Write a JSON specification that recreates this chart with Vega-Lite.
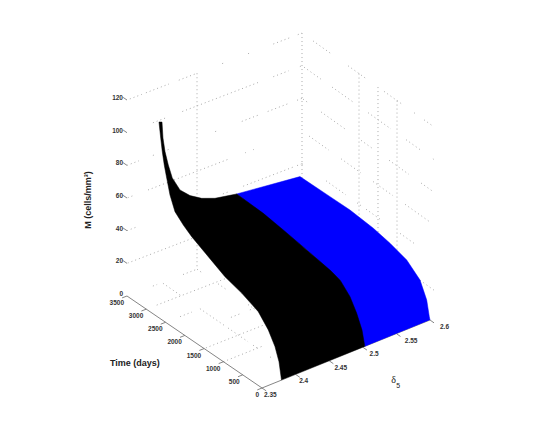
{"$schema":"https://vega.github.io/schema/vega-lite/v6.json","width":545,"height":436,"autosize":{"type":"fit","contains":"padding"},"padding":0,"background":"white","view":{"stroke":null},
"datasets":{"surface":[
{"r":"black","i":1,"delta":2.379,"time":0,"M":0},{"r":"black","i":2,"delta":2.379,"time":65,"M":10.2},{"r":"black","i":3,"delta":2.379,"time":170,"M":17.8},{"r":"black","i":4,"delta":2.379,"time":344,"M":25.2},{"r":"black","i":5,"delta":2.379,"time":605,"M":32.2},{"r":"black","i":6,"delta":2.379,"time":1038,"M":36.6},{"r":"black","i":7,"delta":2.379,"time":1474,"M":39.6},{"r":"black","i":8,"delta":2.379,"time":1909,"M":44.9},{"r":"black","i":9,"delta":2.379,"time":2342,"M":50.2},{"r":"black","i":10,"delta":2.379,"time":2561,"M":53.8},{"r":"black","i":11,"delta":2.379,"time":2778,"M":58.5},{"r":"black","i":12,"delta":2.379,"time":2908,"M":66.6},{"r":"black","i":13,"delta":2.379,"time":2994,"M":75.6},{"r":"black","i":14,"delta":2.379,"time":3057,"M":82.5},{"r":"black","i":15,"delta":2.379,"time":3109,"M":89.9},{"r":"black","i":16,"delta":2.379,"time":3150,"M":97.5},{"r":"black","i":17,"delta":2.379,"time":3195,"M":106.7},
{"r":"black","i":18,"delta":2.4,"time":3500,"M":98.3},{"r":"black","i":19,"delta":2.4014,"time":3500,"M":88.3},{"r":"black","i":20,"delta":2.4043,"time":3500,"M":79.5},{"r":"black","i":21,"delta":2.409,"time":3500,"M":70.5},{"r":"black","i":22,"delta":2.4147,"time":3500,"M":61.7},{"r":"black","i":23,"delta":2.4257,"time":3500,"M":52.5},{"r":"black","i":24,"delta":2.44,"time":3500,"M":46.7},{"r":"black","i":25,"delta":2.4567,"time":3500,"M":42.3},{"r":"black","i":26,"delta":2.4757,"time":3500,"M":39.2},{"r":"black","i":27,"delta":2.4971,"time":3500,"M":37.5},
{"r":"black","i":28,"delta":2.503,"time":3430,"M":38.5},{"r":"black","i":29,"delta":2.503,"time":2718,"M":38},{"r":"black","i":30,"delta":2.503,"time":2183,"M":36.4},{"r":"black","i":31,"delta":2.503,"time":1556,"M":34.2},{"r":"black","i":32,"delta":2.503,"time":932,"M":31.8},{"r":"black","i":33,"delta":2.503,"time":664,"M":30.1},{"r":"black","i":34,"delta":2.503,"time":396,"M":24.1},{"r":"black","i":35,"delta":2.503,"time":217,"M":16.8},{"r":"black","i":36,"delta":2.503,"time":75,"M":8.8},{"r":"black","i":37,"delta":2.503,"time":0,"M":0},
{"r":"blue","i":1,"delta":2.503,"time":0,"M":0},{"r":"blue","i":2,"delta":2.503,"time":664,"M":30.1},{"r":"blue","i":3,"delta":2.503,"time":1556,"M":34.2},{"r":"blue","i":4,"delta":2.503,"time":3430,"M":38.5},{"r":"blue","i":5,"delta":2.6,"time":3555,"M":31.2},{"r":"blue","i":6,"delta":2.6,"time":2734,"M":32},{"r":"blue","i":7,"delta":2.6,"time":2188,"M":32.5},{"r":"blue","i":8,"delta":2.6,"time":1550,"M":31.5},{"r":"blue","i":9,"delta":2.6,"time":1094,"M":29.6},{"r":"blue","i":10,"delta":2.6,"time":637,"M":26.6},{"r":"blue","i":11,"delta":2.6,"time":273,"M":20.1},{"r":"blue","i":12,"delta":2.6,"time":90,"M":10.8},{"r":"blue","i":13,"delta":2.6,"time":19,"M":1.7},{"r":"blue","i":14,"delta":2.6,"time":0,"M":0}
],
"grid":[
{"s":"a1","i":1,"delta":2.354,"time":3500,"M":120},{"s":"a1","i":2,"delta":2.371,"time":3500,"M":120},{"s":"a2","i":1,"delta":2.377,"time":3500,"M":120},{"s":"a2","i":2,"delta":2.41,"time":3500,"M":120},{"s":"a3","i":1,"delta":2.424,"time":3500,"M":120},{"s":"a3","i":2,"delta":2.447,"time":3500,"M":120},{"s":"a4","i":1,"delta":2.486,"time":3500,"M":120},{"s":"a4","i":2,"delta":2.488,"time":3500,"M":120},{"s":"a5","i":1,"delta":2.523,"time":3500,"M":120},{"s":"a5","i":2,"delta":2.525,"time":3500,"M":120},{"s":"a6","i":1,"delta":2.559,"time":3500,"M":120},{"s":"a6","i":2,"delta":2.584,"time":3500,"M":120},{"s":"a7","i":1,"delta":2.594,"time":3500,"M":120},{"s":"a7","i":2,"delta":2.6,"time":3500,"M":120},
{"s":"b1","i":1,"delta":2.387,"time":3500,"M":100},{"s":"b1","i":2,"delta":2.407,"time":3500,"M":100},{"s":"b2","i":1,"delta":2.429,"time":3500,"M":100},{"s":"b2","i":2,"delta":2.537,"time":3500,"M":100},{"s":"b3","i":1,"delta":2.559,"time":3500,"M":100},{"s":"b3","i":2,"delta":2.581,"time":3500,"M":100},{"s":"b4","i":1,"delta":2.597,"time":3500,"M":100},{"s":"b4","i":2,"delta":2.6,"time":3500,"M":100},
{"s":"c1","i":1,"delta":2.35,"time":3500,"M":80},{"s":"c1","i":2,"delta":2.367,"time":3500,"M":80},{"s":"c2","i":1,"delta":2.387,"time":3500,"M":80},{"s":"c2","i":2,"delta":2.389,"time":3500,"M":80},{"s":"c3","i":1,"delta":2.408,"time":3500,"M":80},{"s":"c3","i":2,"delta":2.41,"time":3500,"M":80},{"s":"c4","i":1,"delta":2.476,"time":3500,"M":80},{"s":"c4","i":2,"delta":2.48,"time":3500,"M":80},{"s":"c5","i":1,"delta":2.514,"time":3500,"M":80},{"s":"c5","i":2,"delta":2.537,"time":3500,"M":80},{"s":"c6","i":1,"delta":2.551,"time":3500,"M":80},{"s":"c6","i":2,"delta":2.58,"time":3500,"M":80},{"s":"c7","i":1,"delta":2.593,"time":3500,"M":80},{"s":"c7","i":2,"delta":2.6,"time":3500,"M":80},
{"s":"d1","i":1,"delta":2.351,"time":3500,"M":60},{"s":"d1","i":2,"delta":2.361,"time":3500,"M":60},{"s":"d2","i":1,"delta":2.38,"time":3500,"M":60},{"s":"d2","i":2,"delta":2.494,"time":3500,"M":60},{"s":"d3","i":1,"delta":2.519,"time":3500,"M":60},{"s":"d3","i":2,"delta":2.52,"time":3500,"M":60},{"s":"d4","i":1,"delta":2.53,"time":3500,"M":60},{"s":"d4","i":2,"delta":2.531,"time":3500,"M":60},
{"s":"e1","i":1,"delta":2.35,"time":3500,"M":40},{"s":"e1","i":2,"delta":2.366,"time":3500,"M":40},{"s":"e2","i":1,"delta":2.487,"time":3500,"M":40},{"s":"e2","i":2,"delta":2.496,"time":3500,"M":40},{"s":"e3","i":1,"delta":2.516,"time":3500,"M":40},{"s":"e3","i":2,"delta":2.587,"time":3500,"M":40},{"s":"e4","i":1,"delta":2.593,"time":3500,"M":40},{"s":"e4","i":2,"delta":2.6,"time":3500,"M":40},
{"s":"f1","i":1,"delta":2.351,"time":3500,"M":20},{"s":"f1","i":2,"delta":2.444,"time":3500,"M":20},
{"s":"g1","i":1,"delta":2.6,"time":3199,"M":120},{"s":"g1","i":2,"delta":2.6,"time":2679,"M":120},{"s":"g2","i":1,"delta":2.6,"time":2242,"M":120},{"s":"g2","i":2,"delta":2.6,"time":1750,"M":120},{"s":"g3","i":1,"delta":2.6,"time":1258,"M":120},{"s":"g3","i":2,"delta":2.6,"time":766,"M":120},{"s":"g4","i":1,"delta":2.6,"time":437,"M":120},{"s":"g4","i":2,"delta":2.6,"time":383,"M":120},{"s":"g5","i":1,"delta":2.6,"time":164,"M":120},{"s":"g5","i":2,"delta":2.6,"time":-100,"M":120},
{"s":"h1","i":1,"delta":2.6,"time":3445,"M":100},{"s":"h1","i":2,"delta":2.6,"time":2980,"M":100},{"s":"h2","i":1,"delta":2.6,"time":2679,"M":100},{"s":"h2","i":2,"delta":2.6,"time":2078,"M":100},{"s":"h3","i":1,"delta":2.6,"time":1695,"M":100},{"s":"h3","i":2,"delta":2.6,"time":1066,"M":100},{"s":"h4","i":1,"delta":2.6,"time":656,"M":100},{"s":"h4","i":2,"delta":2.6,"time":219,"M":100},{"s":"h5","i":1,"delta":2.6,"time":-100,"M":100},{"s":"h5","i":2,"delta":2.6,"time":-80,"M":100},
{"s":"j1","i":1,"delta":2.6,"time":3472,"M":80},{"s":"j1","i":2,"delta":2.6,"time":3308,"M":80},{"s":"j2","i":1,"delta":2.6,"time":2980,"M":80},{"s":"j2","i":2,"delta":2.6,"time":2297,"M":80},{"s":"j3","i":1,"delta":2.6,"time":1886,"M":80},{"s":"j3","i":2,"delta":2.6,"time":1558,"M":80},{"s":"j4","i":1,"delta":2.6,"time":1121,"M":80},{"s":"j4","i":2,"delta":2.6,"time":574,"M":80},{"s":"j5","i":1,"delta":2.6,"time":246,"M":80},{"s":"j5","i":2,"delta":2.6,"time":-100,"M":80},
{"s":"k1","i":1,"delta":2.6,"time":3308,"M":60},{"s":"k1","i":2,"delta":2.6,"time":2761,"M":60},{"s":"k2","i":1,"delta":2.6,"time":2433,"M":60},{"s":"k2","i":2,"delta":2.6,"time":1886,"M":60},{"s":"k3","i":1,"delta":2.6,"time":1558,"M":60},{"s":"k3","i":2,"delta":2.6,"time":1011,"M":60},{"s":"k4","i":1,"delta":2.6,"time":683,"M":60},{"s":"k4","i":2,"delta":2.6,"time":0,"M":60},
{"s":"l1","i":1,"delta":2.6,"time":3500,"M":40},{"s":"l1","i":2,"delta":2.6,"time":3445,"M":40},{"s":"l2","i":1,"delta":2.6,"time":2843,"M":40},{"s":"l2","i":2,"delta":2.6,"time":2297,"M":40},{"s":"l3","i":1,"delta":2.6,"time":1996,"M":40},{"s":"l3","i":2,"delta":2.6,"time":1886,"M":40},{"s":"l4","i":1,"delta":2.6,"time":1750,"M":40},{"s":"l4","i":2,"delta":2.6,"time":1312,"M":40},{"s":"l5","i":1,"delta":2.6,"time":820,"M":40},{"s":"l5","i":2,"delta":2.6,"time":410,"M":40},
{"s":"m1","i":1,"delta":2.6,"time":273,"M":20},{"s":"m1","i":2,"delta":2.6,"time":-137,"M":20},
{"s":"v1","i":1,"delta":2.45,"time":3500,"M":120},{"s":"v1","i":2,"delta":2.45,"time":3500,"M":0},{"s":"v2","i":1,"delta":2.6,"time":3500,"M":120},{"s":"v2","i":2,"delta":2.6,"time":3500,"M":0},{"s":"v3","i":1,"delta":2.6,"time":1941,"M":120},{"s":"v3","i":2,"delta":2.6,"time":1941,"M":0},{"s":"v4","i":1,"delta":2.6,"time":1422,"M":120},{"s":"v4","i":2,"delta":2.6,"time":1422,"M":0},{"s":"v5","i":1,"delta":2.6,"time":902,"M":120},{"s":"v5","i":2,"delta":2.6,"time":902,"M":0},
{"s":"n1","i":1,"delta":2.387,"time":3500,"M":0},{"s":"n1","i":2,"delta":2.393,"time":3500,"M":0},{"s":"n2","i":1,"delta":2.43,"time":3500,"M":0},{"s":"n2","i":2,"delta":2.45,"time":3500,"M":0},{"s":"n3","i":1,"delta":2.365,"time":3000,"M":0},{"s":"n3","i":2,"delta":2.465,"time":3000,"M":0},{"s":"n4","i":1,"delta":2.371,"time":2500,"M":0},{"s":"n4","i":2,"delta":2.388,"time":2500,"M":0},{"s":"n5","i":1,"delta":2.417,"time":2000,"M":0},{"s":"n5","i":2,"delta":2.43,"time":2000,"M":0},{"s":"n6","i":1,"delta":2.4445,"time":2000,"M":0},{"s":"n6","i":2,"delta":2.456,"time":2000,"M":0},{"s":"n7","i":1,"delta":2.3525,"time":1500,"M":0},{"s":"n7","i":2,"delta":2.439,"time":1500,"M":0},{"s":"n8","i":1,"delta":2.35,"time":1000,"M":0},{"s":"n8","i":2,"delta":2.407,"time":1000,"M":0},
{"s":"o1","i":1,"delta":2.4,"time":3475,"M":0},{"s":"o1","i":2,"delta":2.4,"time":2975,"M":0},{"s":"o2","i":1,"delta":2.4,"time":2506,"M":0},{"s":"o2","i":2,"delta":2.4,"time":1848,"M":0},{"s":"o3","i":1,"delta":2.4,"time":1771,"M":0},{"s":"o3","i":2,"delta":2.4,"time":1246,"M":0},{"s":"o4","i":1,"delta":2.4,"time":1116,"M":0},{"s":"o4","i":2,"delta":2.4,"time":984,"M":0},{"s":"o5","i":1,"delta":2.4,"time":665,"M":0},{"s":"o5","i":2,"delta":2.4,"time":630,"M":0},{"s":"p1","i":1,"delta":2.45,"time":3500,"M":0},{"s":"p1","i":2,"delta":2.45,"time":3367,"M":0},{"s":"p2","i":1,"delta":2.45,"time":2943,"M":0},{"s":"p2","i":2,"delta":2.45,"time":2705,"M":0},{"s":"p3","i":1,"delta":2.45,"time":2149,"M":0},{"s":"p3","i":2,"delta":2.45,"time":1963,"M":0}
],
"axes":[
{"s":"ax1","i":1,"delta":2.35,"time":0,"M":0},{"s":"ax1","i":2,"delta":2.35,"time":3500,"M":0},{"s":"ax2","i":1,"delta":2.35,"time":0,"M":0},{"s":"ax2","i":2,"delta":2.6,"time":0,"M":0},
{"s":"t0","i":1,"delta":2.35,"time":0,"M":0},{"s":"t0","i":2,"delta":2.343,"time":0,"M":0},{"s":"t1","i":1,"delta":2.35,"time":500,"M":0},{"s":"t1","i":2,"delta":2.343,"time":500,"M":0},{"s":"t2","i":1,"delta":2.35,"time":1000,"M":0},{"s":"t2","i":2,"delta":2.343,"time":1000,"M":0},{"s":"t3","i":1,"delta":2.35,"time":1500,"M":0},{"s":"t3","i":2,"delta":2.343,"time":1500,"M":0},{"s":"t4","i":1,"delta":2.35,"time":2000,"M":0},{"s":"t4","i":2,"delta":2.343,"time":2000,"M":0},{"s":"t5","i":1,"delta":2.35,"time":2500,"M":0},{"s":"t5","i":2,"delta":2.343,"time":2500,"M":0},{"s":"t6","i":1,"delta":2.35,"time":3000,"M":0},{"s":"t6","i":2,"delta":2.343,"time":3000,"M":0},{"s":"t7","i":1,"delta":2.35,"time":3500,"M":0},{"s":"t7","i":2,"delta":2.343,"time":3500,"M":0},
{"s":"u0","i":1,"delta":2.35,"time":0,"M":0},{"s":"u0","i":2,"delta":2.35,"time":-110,"M":0},{"s":"u1","i":1,"delta":2.4,"time":0,"M":0},{"s":"u1","i":2,"delta":2.4,"time":-110,"M":0},{"s":"u2","i":1,"delta":2.45,"time":0,"M":0},{"s":"u2","i":2,"delta":2.45,"time":-110,"M":0},{"s":"u3","i":1,"delta":2.5,"time":0,"M":0},{"s":"u3","i":2,"delta":2.5,"time":-110,"M":0},{"s":"u4","i":1,"delta":2.55,"time":0,"M":0},{"s":"u4","i":2,"delta":2.55,"time":-110,"M":0},{"s":"u5","i":1,"delta":2.6,"time":0,"M":0},{"s":"u5","i":2,"delta":2.6,"time":-110,"M":0},
{"s":"z1","i":1,"delta":2.35,"time":3500,"M":20},{"s":"z1","i":2,"delta":2.35,"time":3600,"M":20},{"s":"z2","i":1,"delta":2.35,"time":3500,"M":40},{"s":"z2","i":2,"delta":2.35,"time":3600,"M":40},{"s":"z3","i":1,"delta":2.35,"time":3500,"M":60},{"s":"z3","i":2,"delta":2.35,"time":3600,"M":60},{"s":"z4","i":1,"delta":2.35,"time":3500,"M":80},{"s":"z4","i":2,"delta":2.35,"time":3600,"M":80},{"s":"z5","i":1,"delta":2.35,"time":3500,"M":100},{"s":"z5","i":2,"delta":2.35,"time":3600,"M":100},{"s":"z6","i":1,"delta":2.35,"time":3500,"M":120},{"s":"z6","i":2,"delta":2.35,"time":3600,"M":120}
],
"zlabels":[{"label":"0","delta":2.35,"time":3500,"M":0},{"label":"20","delta":2.35,"time":3500,"M":20},{"label":"40","delta":2.35,"time":3500,"M":40},{"label":"60","delta":2.35,"time":3500,"M":60},{"label":"80","delta":2.35,"time":3500,"M":80},{"label":"100","delta":2.35,"time":3500,"M":100},{"label":"120","delta":2.35,"time":3500,"M":120}],
"tlabels":[{"label":"0","delta":2.35,"time":0,"M":0},{"label":"500","delta":2.35,"time":500,"M":0},{"label":"1000","delta":2.35,"time":1000,"M":0},{"label":"1500","delta":2.35,"time":1500,"M":0},{"label":"2000","delta":2.35,"time":2000,"M":0},{"label":"2500","delta":2.35,"time":2500,"M":0},{"label":"3000","delta":2.35,"time":3000,"M":0},{"label":"3500","delta":2.35,"time":3500,"M":0}],
"dlabels":[{"label":"2.35","delta":2.35,"time":0,"M":0},{"label":"2.4","delta":2.4,"time":0,"M":0},{"label":"2.45","delta":2.45,"time":0,"M":0},{"label":"2.5","delta":2.5,"time":0,"M":0},{"label":"2.55","delta":2.55,"time":0,"M":0},{"label":"2.6","delta":2.6,"time":0,"M":0}]
},
"layer":[
{"data":{"name":"grid"},"transform":[{"calculate":"(datum.delta-2.35)/0.25","as":"u"},{"calculate":"datum.time/3500","as":"v"},{"calculate":"262+168*datum.u-135*datum.v+7*datum.u*datum.v","as":"sx"},{"calculate":"388-68*datum.u-92*datum.v+datum.u*datum.v-1.633*datum.M","as":"sy"}],
"mark":{"type":"line","stroke":"#aaaaaa","strokeWidth":1,"strokeDash":[1,3]},
"encoding":{"x":{"field":"sx","type":"quantitative","scale":{"domain":[0,545],"nice":false,"zero":false},"axis":null},"y":{"field":"sy","type":"quantitative","scale":{"domain":[436,0],"nice":false,"zero":false},"axis":null},"detail":{"field":"s"},"order":{"field":"i"}}},
{"data":{"name":"axes"},"transform":[{"calculate":"(datum.delta-2.35)/0.25","as":"u"},{"calculate":"datum.time/3500","as":"v"},{"calculate":"262+168*datum.u-135*datum.v+7*datum.u*datum.v","as":"sx"},{"calculate":"388-68*datum.u-92*datum.v+datum.u*datum.v-1.633*datum.M","as":"sy"}],
"mark":{"type":"line","stroke":"#666666","strokeWidth":0.8},
"encoding":{"x":{"field":"sx","type":"quantitative","scale":{"domain":[0,545],"nice":false,"zero":false},"axis":null},"y":{"field":"sy","type":"quantitative","scale":{"domain":[436,0],"nice":false,"zero":false},"axis":null},"detail":{"field":"s"},"order":{"field":"i"}}},
{"data":{"name":"surface"},"transform":[{"filter":"datum.r=='blue'"},{"calculate":"(datum.delta-2.35)/0.25","as":"u"},{"calculate":"datum.time/3500","as":"v"},{"calculate":"262+168*datum.u-135*datum.v+7*datum.u*datum.v","as":"sx"},{"calculate":"388-68*datum.u-92*datum.v+datum.u*datum.v-1.633*datum.M","as":"sy"}],
"mark":{"type":"line","fill":"#0000ff","stroke":"#0000ff","strokeWidth":0.5},
"encoding":{"x":{"field":"sx","type":"quantitative","scale":{"domain":[0,545],"nice":false,"zero":false},"axis":null},"y":{"field":"sy","type":"quantitative","scale":{"domain":[436,0],"nice":false,"zero":false},"axis":null},"order":{"field":"i"}}},
{"data":{"name":"surface"},"transform":[{"filter":"datum.r=='black'"},{"calculate":"(datum.delta-2.35)/0.25","as":"u"},{"calculate":"datum.time/3500","as":"v"},{"calculate":"262+168*datum.u-135*datum.v+7*datum.u*datum.v","as":"sx"},{"calculate":"388-68*datum.u-92*datum.v+datum.u*datum.v-1.633*datum.M","as":"sy"}],
"mark":{"type":"line","fill":"#000000","stroke":"#000000","strokeWidth":0.5},
"encoding":{"x":{"field":"sx","type":"quantitative","scale":{"domain":[0,545],"nice":false,"zero":false},"axis":null},"y":{"field":"sy","type":"quantitative","scale":{"domain":[436,0],"nice":false,"zero":false},"axis":null},"order":{"field":"i"}}},
{"data":{"name":"zlabels"},"transform":[{"calculate":"(datum.delta-2.35)/0.25","as":"u"},{"calculate":"datum.time/3500","as":"v"},{"calculate":"262+168*datum.u-135*datum.v+7*datum.u*datum.v","as":"sx"},{"calculate":"388-68*datum.u-92*datum.v+datum.u*datum.v-1.633*datum.M","as":"sy"}],
"mark":{"type":"text","font":"Liberation Sans","fontSize":6.5,"fontWeight":"bold","fill":"#333333","align":"right","baseline":"middle","dx":-4,"dy":-2},
"encoding":{"x":{"field":"sx","type":"quantitative","scale":{"domain":[0,545],"nice":false,"zero":false},"axis":null},"y":{"field":"sy","type":"quantitative","scale":{"domain":[436,0],"nice":false,"zero":false},"axis":null},"text":{"field":"label"}}},
{"data":{"name":"tlabels"},"transform":[{"calculate":"(datum.delta-2.35)/0.25","as":"u"},{"calculate":"datum.time/3500","as":"v"},{"calculate":"262+168*datum.u-135*datum.v+7*datum.u*datum.v","as":"sx"},{"calculate":"388-68*datum.u-92*datum.v+datum.u*datum.v-1.633*datum.M","as":"sy"}],
"mark":{"type":"text","font":"Liberation Sans","fontSize":6.5,"fontWeight":"bold","fill":"#333333","align":"right","baseline":"middle","dx":-3,"dy":7},
"encoding":{"x":{"field":"sx","type":"quantitative","scale":{"domain":[0,545],"nice":false,"zero":false},"axis":null},"y":{"field":"sy","type":"quantitative","scale":{"domain":[436,0],"nice":false,"zero":false},"axis":null},"text":{"field":"label"}}},
{"data":{"name":"dlabels"},"transform":[{"calculate":"(datum.delta-2.35)/0.25","as":"u"},{"calculate":"datum.time/3500","as":"v"},{"calculate":"264+176*datum.u-135*datum.v+7*datum.u*datum.v","as":"sx"},{"calculate":"388-68*datum.u-92*datum.v+datum.u*datum.v-1.633*datum.M","as":"sy"}],
"mark":{"type":"text","font":"Liberation Sans","fontSize":6.5,"fontWeight":"bold","fill":"#333333","align":"left","baseline":"middle","dy":7},
"encoding":{"x":{"field":"sx","type":"quantitative","scale":{"domain":[0,545],"nice":false,"zero":false},"axis":null},"y":{"field":"sy","type":"quantitative","scale":{"domain":[436,0],"nice":false,"zero":false},"axis":null},"text":{"field":"label"}}},
{"data":{"values":[{"label":"M (cells/mm³)","delta":2.294,"time":3500,"M":68}]},"transform":[{"calculate":"(datum.delta-2.35)/0.25","as":"u"},{"calculate":"datum.time/3500","as":"v"},{"calculate":"262+168*datum.u-135*datum.v+7*datum.u*datum.v","as":"sx"},{"calculate":"388-68*datum.u-92*datum.v+datum.u*datum.v-1.633*datum.M","as":"sy"}],
"mark":{"type":"text","font":"Liberation Sans","fontSize":9,"fontWeight":"bold","fill":"#222222","align":"center","baseline":"middle","angle":270},
"encoding":{"x":{"field":"sx","type":"quantitative","scale":{"domain":[0,545],"nice":false,"zero":false},"axis":null},"y":{"field":"sy","type":"quantitative","scale":{"domain":[436,0],"nice":false,"zero":false},"axis":null},"text":{"field":"label"}}},
{"data":{"values":[{"label":"Time (days)","delta":2.266,"time":1800,"M":0}]},"transform":[{"calculate":"(datum.delta-2.35)/0.25","as":"u"},{"calculate":"datum.time/3500","as":"v"},{"calculate":"262+168*datum.u-135*datum.v+7*datum.u*datum.v","as":"sx"},{"calculate":"388-68*datum.u-92*datum.v+datum.u*datum.v-1.633*datum.M","as":"sy"}],
"mark":{"type":"text","font":"Liberation Sans","fontSize":9,"fontWeight":"bold","fill":"#222222","align":"center","baseline":"middle"},
"encoding":{"x":{"field":"sx","type":"quantitative","scale":{"domain":[0,545],"nice":false,"zero":false},"axis":null},"y":{"field":"sy","type":"quantitative","scale":{"domain":[436,0],"nice":false,"zero":false},"axis":null},"text":{"field":"label"}}},
{"data":{"values":[{"label":"δ","delta":2.485,"time":-1092,"M":0}]},"transform":[{"calculate":"(datum.delta-2.35)/0.25","as":"u"},{"calculate":"datum.time/3500","as":"v"},{"calculate":"262+168*datum.u-135*datum.v+7*datum.u*datum.v","as":"sx"},{"calculate":"388-68*datum.u-92*datum.v+datum.u*datum.v-1.633*datum.M","as":"sy"}],
"mark":{"type":"text","font":"Liberation Serif","fontSize":10,"fill":"#222222","align":"center","baseline":"middle"},
"encoding":{"x":{"field":"sx","type":"quantitative","scale":{"domain":[0,545],"nice":false,"zero":false},"axis":null},"y":{"field":"sy","type":"quantitative","scale":{"domain":[436,0],"nice":false,"zero":false},"axis":null},"text":{"field":"label"}}},
{"data":{"values":[{"label":"5","delta":2.481,"time":-1281,"M":0}]},"transform":[{"calculate":"(datum.delta-2.35)/0.25","as":"u"},{"calculate":"datum.time/3500","as":"v"},{"calculate":"262+168*datum.u-135*datum.v+7*datum.u*datum.v","as":"sx"},{"calculate":"388-68*datum.u-92*datum.v+datum.u*datum.v-1.633*datum.M","as":"sy"}],
"mark":{"type":"text","font":"Liberation Sans","fontSize":7,"fill":"#222222","align":"center","baseline":"middle"},
"encoding":{"x":{"field":"sx","type":"quantitative","scale":{"domain":[0,545],"nice":false,"zero":false},"axis":null},"y":{"field":"sy","type":"quantitative","scale":{"domain":[436,0],"nice":false,"zero":false},"axis":null},"text":{"field":"label"}}}
]}
